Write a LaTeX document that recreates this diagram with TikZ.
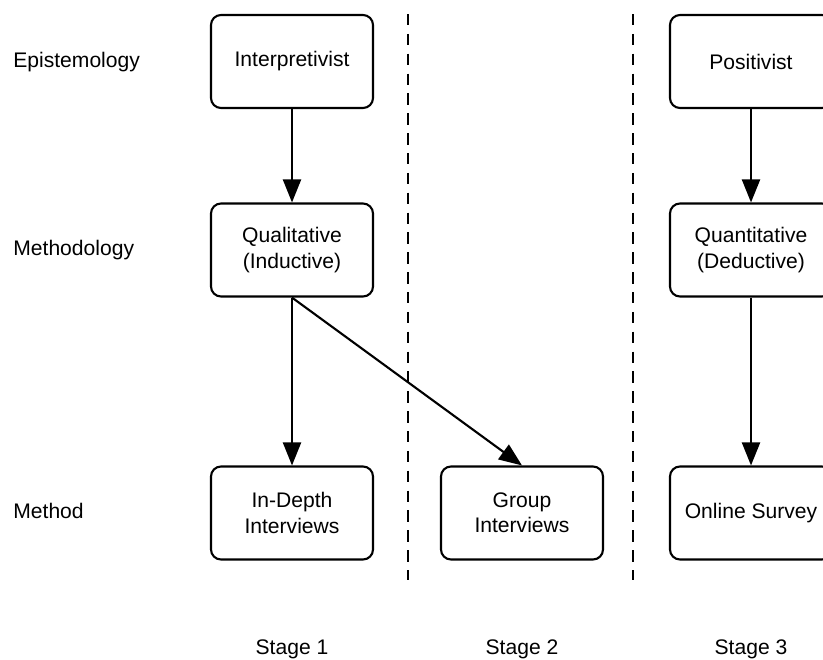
\documentclass[tikz,border=0pt]{standalone}
\usepackage{fontspec}
\setmainfont{Liberation Sans}
\usetikzlibrary{arrows.meta}
\usetikzlibrary{positioning}

\tikzset{
  stagebox/.style={draw=black,line width=1.2pt,rounded corners=0.2cm,minimum width=3.24cm,minimum height=1.86cm,align=center,font=\fontsize{12}{14.4}\selectfont,inner sep=0pt},
  rowlabel/.style={font=\fontsize{12}{14.4}\selectfont,text=black,anchor=base west,inner sep=0pt},
  stagelabel/.style={font=\fontsize{12}{14.4}\selectfont,text=black,anchor=base,inner sep=0pt},
  flow/.style={draw=black,line width=1.2pt,-{Triangle[length=0.46cm,width=0.36cm]}},
  divider/.style={draw=black,line width=1.2pt,dash pattern=on 6.5pt off 4.8pt}
}

\begin{document}
\begin{tikzpicture}
\useasboundingbox (0,0) rectangle (16.46,-13.18);
\clip (0,0) rectangle (16.46,-13.18);

% row labels
\node[rowlabel] (epi) at (0.26,-1.34) {Epistemology};
\node[rowlabel] (mty) at (0.26,-5.11) {Methodology};
\node[rowlabel] (mth) at (0.26,-10.37) {Method};

% stage dividers
\coordinate (d1top) at (8.16,-0.28);
\coordinate (d1bot) at (8.16,-11.6);
\coordinate (d2top) at (12.66,-0.28);
\coordinate (d2bot) at (12.66,-11.6);
\draw[divider] (d1top) -- (d1bot);
\draw[divider] (d2top) -- (d2bot);

% stage 1
\node[stagebox] (interp) at (5.84,-1.23) {Interpretivist};
\node[stagebox] (qual) at (5.84,-5.0) {Qualitative\\(Inductive)};
\node[stagebox] (indepth) at (5.84,-10.26) {In-Depth\\Interviews};

% stage 2
\node[stagebox] (group) at (10.44,-10.26) {Group\\Interviews};

% stage 3
\node[stagebox] (posit) at (15.02,-1.23) {Positivist};
\node[stagebox] (quant) at (15.02,-5.0) {Quantitative\\(Deductive)};
\node[stagebox] (survey) at (15.02,-10.26) {Online Survey};

\draw[flow] (interp) -- (qual);
\draw[flow] (qual) -- (indepth);
\draw[flow] (qual.south) -- (group.north);
\draw[flow] (posit) -- (quant);
\draw[flow] (quant) -- (survey);

% stage labels
\node[stagelabel] (s1) at (5.84,-13.08) {Stage 1};
\node[stagelabel] (s2) at (10.44,-13.08) {Stage 2};
\node[stagelabel] (s3) at (15.02,-13.08) {Stage 3};

\end{tikzpicture}
\end{document}
